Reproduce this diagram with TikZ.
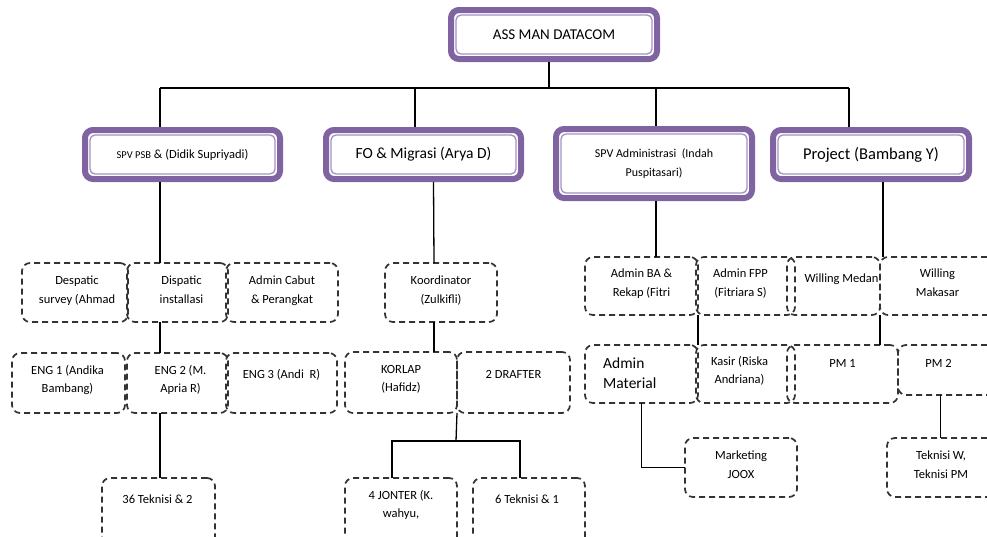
\documentclass[tikz,border=0pt]{standalone}
\usepackage{fontspec}
\setmainfont{Carlito}
\usetikzlibrary{positioning}
\definecolor{lila}{RGB}{128,100,162}
\definecolor{lilaline}{RGB}{163,145,196}
\tikzset{
  headbox/.style={draw=lila, line width=6pt, rounded corners=8pt, fill=white,
    outer sep=3pt, inner sep=2pt, align=center},
  innerline/.style={draw=lilaline, line width=1.3pt, rounded corners=5pt},
  dbox/.style={draw=black!80, line width=1.7pt, dash pattern=on 6pt off 4pt,
    rounded corners=8pt, outer sep=0pt, inner sep=0pt},
  txt/.style={inner sep=0pt, align=center, font=\fontsize{12.5}{18.5}\selectfont,
    execute at begin node=\strut},
  conn/.style={draw=black, line width=1.3pt},
}
\begin{document}
\begin{tikzpicture}[x=1pt,y=-1pt]
\useasboundingbox (0,0) rectangle (987,536);
\clip (0,0) rectangle (987,536);

% top and supervisors
\node[headbox, minimum width=206pt, minimum height=49pt, font=\fontsize{15}{18}\selectfont] (top) at (554,34.5) {ASS MAN DATACOM};
\node[headbox, minimum width=195pt, minimum height=49pt, font=\fontsize{12.5}{18}\selectfont] (psb) at (182.5,154.5) {{\fontsize{10.5}{12}\selectfont SPV PSB} \& (Didik Supriyadi)};
\node[headbox, minimum width=195pt, minimum height=49pt, font=\fontsize{15.5}{18}\selectfont] (fo) at (423.5,154.5) {FO \& Migrasi (Arya D)};
\node[headbox, minimum width=196pt, minimum height=69pt, font=\fontsize{12}{19}\selectfont] (adm) at (654,163.5) {SPV Administrasi\ \ (Indah\\Puspitasari)};
\node[headbox, minimum width=196pt, minimum height=49pt, font=\fontsize{16.5}{18}\selectfont] (proj) at (871,154.5) {Project (Bambang Y)};
\foreach \n in {top,psb,fo,adm,proj}
  \draw[innerline] ([shift={(8pt,-8pt)}]\n.north west) rectangle ([shift={(-8pt,8pt)}]\n.south east);

% dashed boxes
\node[dbox, minimum width=106pt, minimum height=59pt] (despatic) at (75,292.5) {};
\node[dbox, minimum width=101pt, minimum height=59pt] (dispatic) at (177.5,292.5) {};
\node[dbox, minimum width=112pt, minimum height=59pt] (cabut) at (282,292.5) {};
\node[dbox, minimum width=112pt, minimum height=59pt] (koord) at (441,292.5) {};
\node[dbox, minimum width=113pt, minimum height=58pt] (adminba) at (641.5,286) {};
\node[dbox, minimum width=99pt, minimum height=58pt] (adminfpp) at (745.5,286) {};
\node[dbox, minimum width=93pt, minimum height=58pt] (medan) at (833.5,286) {};
\node[dbox, minimum width=115pt, minimum height=58pt] (makasar) at (937.5,286) {};
\node[dbox, minimum width=113pt, minimum height=60pt] (eng1) at (68.5,383) {};
\node[dbox, minimum width=101pt, minimum height=60pt] (eng2) at (177.5,383) {};
\node[dbox, minimum width=111pt, minimum height=60pt] (eng3) at (281.5,383) {};
\node[dbox, minimum width=112pt, minimum height=61pt] (korlap) at (401,382.5) {};
\node[dbox, minimum width=113pt, minimum height=61pt] (drafter) at (513.5,382.5) {};
\node[dbox, minimum width=113pt, minimum height=58pt] (adminmat) at (641.5,374) {};
\node[dbox, minimum width=99pt, minimum height=58pt] (kasir) at (745.5,374) {};
\node[dbox, minimum width=111pt, minimum height=58pt] (pm1) at (842.5,374) {};
\node[dbox, minimum width=97pt, minimum height=50pt] (pm2) at (946.5,370) {};
\node[dbox, minimum width=113pt, minimum height=67pt] (tek36) at (158.5,511.5) {};
\node[dbox, minimum width=112pt, minimum height=67pt] (jonter) at (401,511.5) {};
\node[dbox, minimum width=112pt, minimum height=67pt] (tek6) at (529,511.5) {};
\node[dbox, minimum width=112pt, minimum height=59pt] (joox) at (741,467.5) {};
\node[dbox, minimum width=108pt, minimum height=59pt] (tekw) at (941,467.5) {};

% texts in the dashed boxes
\node[txt, below=13pt of despatic.north, xshift=2pt] (despatic-t) {Despatic\\survey (Ahmad};
\node[txt, below=13pt of dispatic.north, xshift=4pt] (dispatic-t) {Dispatic\\installasi};
\node[txt, below=13pt of cabut.north] (cabut-t) {Admin Cabut\\\& Perangkat};
\node[txt, below=13pt of koord.north] (koord-t) {Koordinator\\(Zulkifli)};
\node[txt, below=12pt of adminba.north] (adminba-t) {Admin BA \&\\Rekap (Fitri};
\node[txt, below=12pt of adminfpp.north, xshift=-5pt] (adminfpp-t) {Admin FPP\\(Fitriara S)};
\node[txt, below=12pt of medan.north, xshift=8pt] (medan-t) {Willing Medan};
\node[txt, below=12pt of makasar.north] (makasar-t) {Willing\\Makasar};
\node[txt, below=12pt of eng1.north, xshift=-1pt] (eng1-t) {ENG 1 (Andika\\Bambang)};
\node[txt, below=12pt of eng2.north, xshift=3pt] (eng2-t) {ENG 2 (M.\\Apria R)};
\node[txt, below=12pt of eng3.north] (eng3-t) {ENG 3 (Andi\ \ R)};
\node[txt, below=13pt of korlap.north] (korlap-t) {KORLAP\\(Hafidz)};
\node[txt, below=13pt of drafter.north] (drafter-t) {2 DRAFTER};
\node[inner sep=0pt, align=left, font=\fontsize{15.5}{20}\selectfont,
  below right=9pt and 18pt of adminmat.north west] (adminmat-t) {\strut Admin\\Material};
\node[txt, below=11pt of kasir.north, xshift=-6pt] (kasir-t) {Kasir (Riska\\Andriana)};
\node[txt, below=9pt of pm1.north] (pm1-t) {PM 1};
\node[txt, below=9pt of pm2.north, xshift=-8pt] (pm2-t) {PM 2};
\node[txt, below=12pt of tek36.north, xshift=-1pt] (tek36-t) {36 Teknisi \& 2};
\node[txt, below=12pt of jonter.north] (jonter-t) {4 JONTER (K.\\wahyu,};
\node[txt, below=12pt of tek6.north, xshift=-2pt] (tek6-t) {6 Teknisi \& 1};
\node[txt, below=13pt of joox.north] (joox-t) {Marketing\\JOOX};
\node[txt, below=13pt of tekw.north] (tekw-t) {Teknisi W,\\Teknisi PM};

% connectors
\coordinate (b1) at (160,88);
\coordinate (b2) at (415,88);
\coordinate (b3) at (656,88);
\coordinate (b4) at (849,88);
\coordinate (fork) at (456,441);
\draw[conn] (b1) -- (b4);
\draw[conn] ([xshift=-5pt]top.south) -- ([xshift=-5pt]top.south |- b1);
\draw[conn] (b1) -- (b1 |- psb.north);
\draw[conn] (b2) -- (b2 |- fo.north);
\draw[conn] (b3) -- (b3 |- adm.north);
\draw[conn] (b4) -- (b4 |- proj.north);
% SPV PSB branch
\draw[conn] (b1 |- psb.south) -- (b1 |- dispatic.north);
\draw[conn] (b1 |- dispatic.south) -- (b1 |- eng2.north);
\draw[conn] (b1 |- eng2.south) -- (b1 |- tek36.north);
% FO branch
\draw[conn] ([xshift=10pt]fo.south) -- ([xshift=-7pt]koord.north);
\draw[conn] ([xshift=-7pt]koord.south) -- ([xshift=-7pt]koord.south |- korlap.north);
\draw[conn] (korlap.south east) -- (fork);
\draw[conn] ([xshift=-9pt]jonter.north) |- ([xshift=-9pt]tek6.north |- fork) -- ([xshift=-9pt]tek6.north);
% administrasi branch
\draw[conn] (b3 |- adm.south) -- (b3 |- adminba.north);
\draw[conn] (adminba.south east) -- (adminmat.north east);
\draw[conn] (adminmat.south) |- (joox.west);
% project branch
\draw[conn] ([xshift=12pt]proj.south) -- ([xshift=12pt]proj.south |- makasar.north);
\draw[conn] (makasar.south west) -- (makasar.south west |- pm1.north);
\draw[conn] ([xshift=-6pt]pm2.south) -- ([xshift=-6pt]pm2.south |- tekw.north);
\end{tikzpicture}
\end{document}
